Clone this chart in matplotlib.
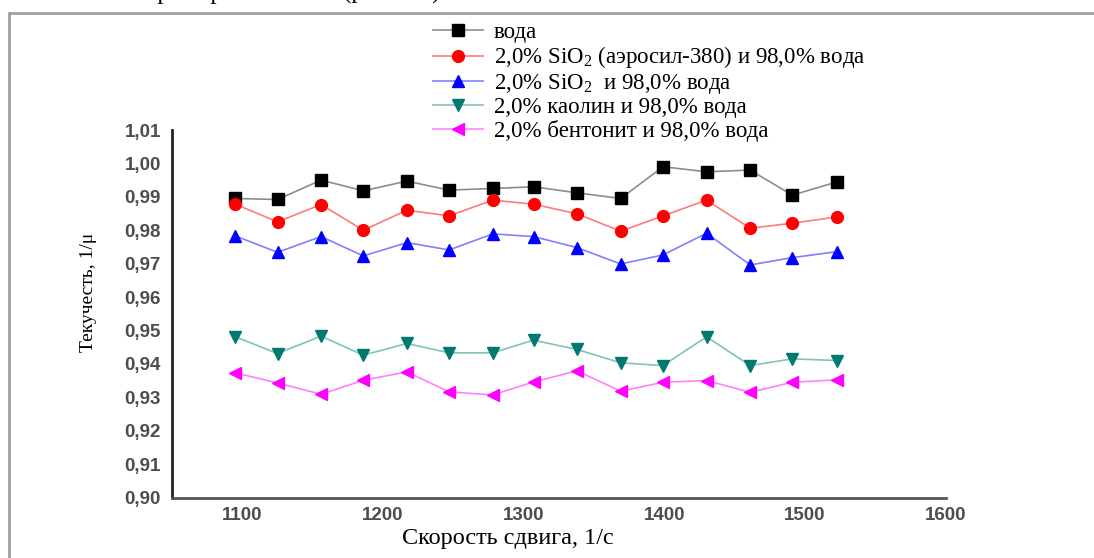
import numpy as np
import matplotlib
matplotlib.use("Agg")
import matplotlib.pyplot as plt
from matplotlib.patches import Rectangle
from matplotlib.ticker import FuncFormatter

# data
shear_rate = [1095, 1125, 1156, 1186, 1217, 1247, 1278, 1307, 1338, 1369, 1399, 1430, 1461, 1491, 1523]

water = [0.9895, 0.9892, 0.9950, 0.9918, 0.9947, 0.9920, 0.9925, 0.9930, 0.9912,
         0.9895, 0.9990, 0.9975, 0.9980, 0.9905, 0.9945]
aerosil = [0.9878, 0.9825, 0.9877, 0.9800, 0.9860, 0.9843, 0.9890, 0.9878, 0.9849,
           0.9797, 0.9843, 0.9890, 0.9806, 0.9821, 0.9840]
sio2 = [0.9783, 0.9734, 0.9781, 0.9723, 0.9763, 0.9741, 0.9789, 0.9781, 0.9748,
        0.9699, 0.9726, 0.9791, 0.9696, 0.9718, 0.9736]
kaolin = [0.9481, 0.9431, 0.9483, 0.9426, 0.9461, 0.9433, 0.9433, 0.9471, 0.9443,
          0.9403, 0.9395, 0.9481, 0.9395, 0.9415, 0.9410]
bentonite = [0.9373, 0.9343, 0.9309, 0.9351, 0.9376, 0.9316, 0.9307, 0.9346, 0.9379,
             0.9318, 0.9345, 0.9350, 0.9315, 0.9345, 0.9352]

labels = ["вода",
          r"2,0% SiO$_{\mathregular{2}}$ (аэросил-380) и 98,0% вода",
          r"2,0% SiO$_{\mathregular{2}}$  и 98,0% вода",
          "2,0% каолин и 98,0% вода",
          "2,0% бентонит и 98,0% вода"]

W, H = 1094, 558
plt.rcParams["mathtext.fontset"] = "custom"
plt.rcParams["mathtext.rm"] = "Liberation Serif"

fig = plt.figure(figsize=(W / 100, H / 100), dpi=100)
fig.patch.set_facecolor("white")

ax = fig.add_axes([172 / W, 1 - 497.5 / H, (945.7 - 172) / W, (497.5 - 130) / H])

styles = [
    (water, "#8c8c8c", "black", "s", 8),
    (aerosil, "#ff7a7a", "red", "o", 8.5),
    (sio2, "#8080ff", "blue", "^", 9),
    (kaolin, "#7fc3bb", "#007a70", "v", 9),
    (bentonite, "#ff80ff", "magenta", "<", 9),
]
lines = []
for (vals, lc, mc, mk, ms), lab in zip(styles, labels):
    ln, = ax.plot(shear_rate, vals, color=lc, lw=1.2, marker=mk, ms=ms,
                  mfc=mc, mec=mc, label=lab)
    lines.append(ln)

ax.set_xlim(1050, 1600)
ax.set_ylim(0.90, 1.01)
ax.set_xticks([1100, 1200, 1300, 1400, 1500, 1600])
ax.set_yticks(np.arange(0.90, 1.0101, 0.01))
ax.yaxis.set_major_formatter(FuncFormatter(lambda v, p: "{:.2f}".format(v).replace(".", ",")))

for s in ["top", "right"]:
    ax.spines[s].set_visible(False)
ax.spines["left"].set_color("#222222")
ax.spines["left"].set_linewidth(2)
ax.spines["bottom"].set_color("#555555")
ax.spines["bottom"].set_linewidth(2)

ax.tick_params(length=0, labelsize=13.5, labelcolor="#4d4d4d")
ax.tick_params(axis="y", pad=8)
ax.tick_params(axis="x", pad=7)
for t in ax.get_xticklabels() + ax.get_yticklabels():
    t.set_fontfamily("Liberation Sans")
    t.set_fontweight("bold")

ax.set_xlabel("Скорость сдвига, 1/с", fontsize=17.5, family="Liberation Serif")
ax.xaxis.set_label_coords((508 - 172) / 773.7, -(528 - 497.5) / 367.5)
ax.set_ylabel("Текучесть, 1/μ", fontsize=14, family="Liberation Serif")
ax.yaxis.set_label_coords((97 - 172) / 773.7, (497.5 - 292) / 367.5)

leg = fig.legend(handles=lines, loc="upper left", bbox_to_anchor=(433 / W, 1 - 22 / H),
                 frameon=False, borderpad=0, borderaxespad=0, handlelength=2.2,
                 handletextpad=0.45, labelspacing=0.06, handleheight=0.6,
                 prop={"family": "Liberation Serif", "size": 16.5})

# page border and cut-off text above the figure
fig.add_artist(Rectangle((8.5 / W, -0.1), 1.2, 1.1 - 13 / H, transform=fig.transFigure,
                         fill=False, ec="#a0a0a0", lw=2))
fig.text(145 / W, 1 + 1 / H, "примера", fontsize=18, family="Liberation Serif", va="baseline")
fig.text(343 / W, 1 + 1 / H, "(рис. 3.2)", fontsize=18, family="Liberation Serif", va="baseline")

fig.savefig("out.png", dpi=100)
